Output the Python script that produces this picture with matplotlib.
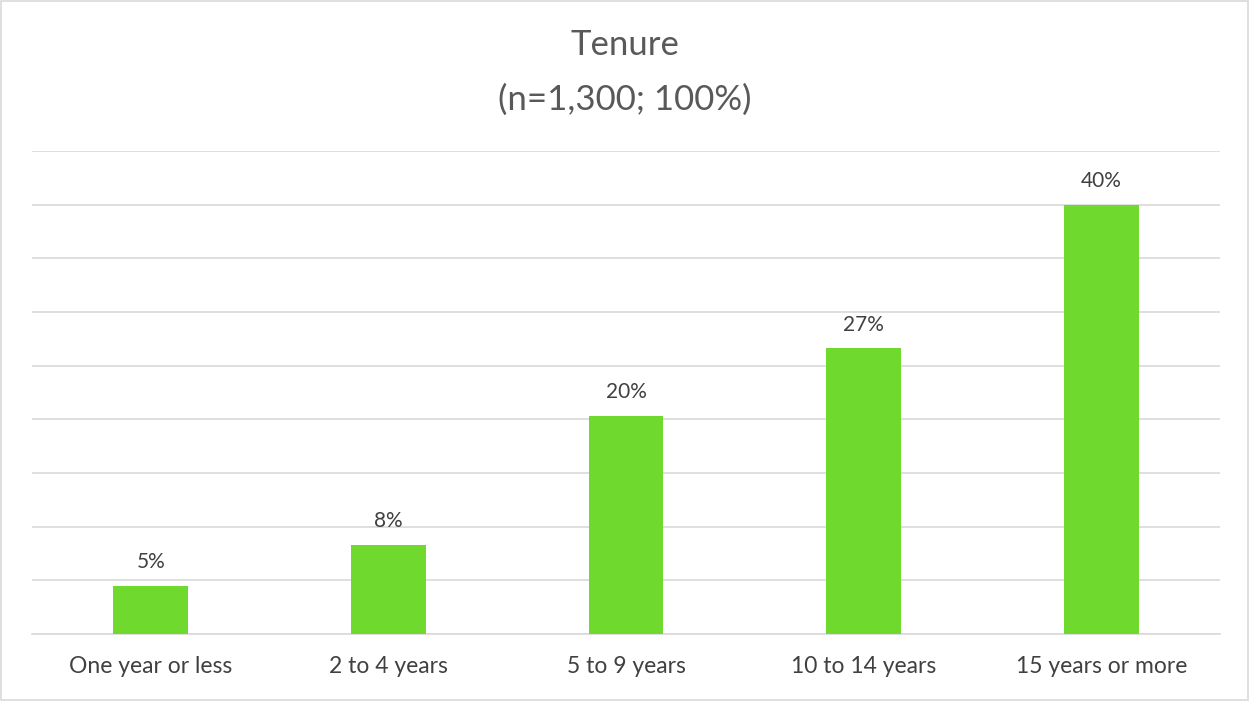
import matplotlib.pyplot as plt

plt.rcParams["font.family"] = ["Lato", "DejaVu Sans"]

categories = ["One year or less", "2 to 4 years", "5 to 9 years", "10 to 14 years", "15 years or more"]
shares = [4.5, 8.3, 20.3, 26.6, 40.0]
share_labels = ["5%", "8%", "20%", "27%", "40%"]

TEXT = "#404040"
GRID = "#D9D9D9"
BAR = "#70D92D"

fig = plt.figure(figsize=(12.5, 7.01), dpi=100)
ax = fig.add_axes([32 / 1250, 1 - 634 / 701, 1188 / 1250, (634 - 151) / 701])

x = range(len(categories))
bars = ax.bar(x, shares, width=0.315, color=BAR, zorder=3)
for b, lab in zip(bars, share_labels):
    ax.annotate(lab, (b.get_x() + b.get_width() / 2, b.get_height()),
                xytext=(0, 10), textcoords="offset points",
                ha="center", va="bottom", fontsize=15, color=TEXT)

ax.set_xlim(-0.5, len(categories) - 0.5)
ax.set_ylim(0, 45)
ax.set_yticks(range(0, 46, 5))
ax.yaxis.grid(True, color=GRID, linewidth=1.2, zorder=0)
ax.tick_params(axis="y", left=False, labelleft=False)
ax.set_xticks(list(x))
ax.set_xticklabels(categories, fontsize=16.5, color=TEXT)
ax.tick_params(axis="x", length=0, pad=16)
for s in ["top", "right", "left"]:
    ax.spines[s].set_visible(False)
ax.spines["bottom"].set_color(GRID)
ax.spines["bottom"].set_linewidth(1.2)

fig.text(0.5, 1 - 45 / 701, "Tenure", ha="center", va="center", fontsize=25, color="#595959")
fig.text(0.5, 1 - 100 / 701, "(n=1,300; 100%)", ha="center", va="center", fontsize=25, color="#595959")

fig.patches.append(plt.Rectangle((0.001, 0.002), 0.997, 0.996, transform=fig.transFigure,
                                 fill=False, edgecolor=GRID, linewidth=1.2))

fig.savefig("out.png", dpi=100)
